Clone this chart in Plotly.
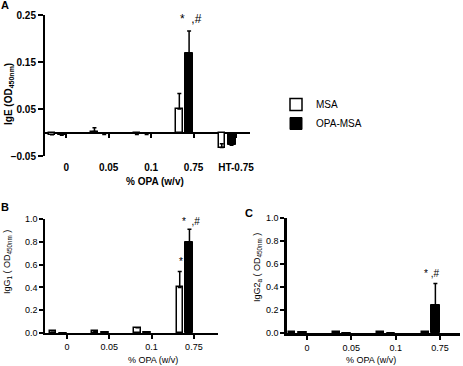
import plotly.graph_objects as go

# ---------------- data ----------------
cats_a = ["0", "0.05", "0.1", "0.75", "HT-0.75"]
msa_a = [-0.005, 0.002, -0.004, 0.05, -0.032]
msa_a_err = [0.0, 0.008, 0.0, 0.033, 0.008]
opa_a = [-0.006, -0.004, -0.004, 0.169, -0.027]
opa_a_err = [0.0, 0.0, 0.0, 0.047, 0.004]

cats_bc = ["0", "0.05", "0.1", "0.75"]
msa_b = [0.02, 0.015, 0.045, 0.40]
msa_b_err = [0.0, 0.0, 0.0, 0.14]
opa_b = [0.0, 0.006, 0.01, 0.795]
opa_b_err = [0.0, 0.0, 0.0, 0.115]

msa_c = [0.01, 0.01, 0.01, 0.01]
msa_c_err = [0.0, 0.0, 0.0, 0.0]
opa_c = [0.006, 0.0, 0.0, 0.245]
opa_c_err = [0.0, 0.0, 0.0, 0.185]

W, H = 463, 366
FONT = "Liberation Sans, Arial, sans-serif"

def px_x(p):
    return p / W

def px_y(p):
    return 1 - p / H

fig = go.Figure()

def add_pair(cats, msa, msa_err, opa, opa_err, xa, ya, show):
    fig.add_trace(go.Bar(
        x=cats, y=msa, name="MSA", xaxis=xa, yaxis=ya, showlegend=show,
        marker=dict(color="white", line=dict(color="black", width=1.5)),
        width=0.15, offset=-0.41,
        error_y=dict(type="data", array=msa_err, arrayminus=[0]*len(msa_err),
                     symmetric=False, color="black", thickness=1.5, width=2),
    ))
    fig.add_trace(go.Bar(
        x=cats, y=opa, name="OPA-MSA", xaxis=xa, yaxis=ya, showlegend=show,
        marker=dict(color="black", line=dict(color="black", width=1)),
        width=0.19, offset=-0.2,
        error_y=dict(type="data", array=opa_err, arrayminus=[0]*len(opa_err),
                     symmetric=False, color="black", thickness=1.5, width=2),
    ))

add_pair(cats_a, msa_a, msa_a_err, opa_a, opa_a_err, "x", "y", True)
add_pair(cats_bc, msa_b, msa_b_err, opa_b, opa_b_err, "x2", "y2", False)
add_pair(cats_bc, msa_c, msa_c_err, opa_c, opa_c_err, "x3", "y3", False)

tickfont_bold = dict(family=FONT, size=10, color="black", weight="bold")
tickfont_reg = dict(family=FONT, size=9, color="black")

fig.update_layout(
    template="none",
    width=W, height=H, margin=dict(l=0, r=0, t=0, b=0, pad=0),
    paper_bgcolor="white", plot_bgcolor="white",
    barmode="overlay", bargap=0,
    font=dict(family=FONT, color="black"),
    showlegend=True,
    legend=dict(x=px_x(276), y=px_y(90), xanchor="left", yanchor="top",
                font=dict(family=FONT, size=10, color="black"),
                bgcolor="rgba(0,0,0,0)", tracegroupgap=0, itemwidth=30),
    # Panel A
    xaxis=dict(domain=[px_x(45), px_x(250)], range=[-0.5, 4.33],
               anchor="free", position=px_y(132.5), type="category",
               showline=False, ticks="outside", ticklen=4, tickwidth=1.5,
               tickcolor="black", tickfont=tickfont_bold, automargin=False,
               ticklabelstandoff=21, showgrid=False, zeroline=False),
    yaxis=dict(domain=[px_y(156), px_y(15)], range=[-0.05, 0.25],
               anchor="x", showline=True, linewidth=2, linecolor="black",
               ticks="outside", ticklen=5, tickwidth=2, tickcolor="black",
               tick0=-0.05, dtick=0.1, tickformat=".2f", automargin=False,
               tickfont=tickfont_bold, showgrid=False,
               zeroline=True, zerolinecolor="black", zerolinewidth=1.5),
    # Panel B
    xaxis2=dict(domain=[px_x(45), px_x(218)], range=[-0.52, 3.57],
                anchor="y2", type="category", showline=True, linewidth=2,
                linecolor="black", ticks="outside", ticklen=4, tickwidth=1.5,
                automargin=False,
                tickcolor="black", tickfont=tickfont_reg, showgrid=False),
    yaxis2=dict(domain=[px_y(333), px_y(219)], range=[0, 1.0],
                anchor="x2", showline=True, linewidth=1.5, linecolor="black",
                ticks="outside", ticklen=4, tickwidth=1.5, tickcolor="black",
                dtick=0.2, tickformat=".1f", tickfont=tickfont_reg,
                automargin=False, showgrid=False, zeroline=False),
    # Panel C
    xaxis3=dict(domain=[px_x(287), px_x(460)], range=[-0.45, 3.45],
                anchor="y3", type="category", showline=True, linewidth=2.5,
                linecolor="black", ticks="outside", ticklen=4, tickwidth=1.5,
                automargin=False,
                tickcolor="black", tickfont=tickfont_reg, showgrid=False),
    yaxis3=dict(domain=[px_y(333), px_y(218)], range=[0, 1.0],
                anchor="x3", showline=True, linewidth=2.5, linecolor="black",
                ticks="outside", ticklen=4, tickwidth=2, tickcolor="black",
                dtick=0.2, tickformat=".1f", tickfont=tickfont_reg,
                automargin=False, showgrid=False, zeroline=False),
)

ann = []
def paper_text(text, x, y, size=10, bold=False, angle=0):
    ann.append(dict(text=text, x=px_x(x), y=px_y(y), xref="paper", yref="paper",
                    showarrow=False, textangle=angle, xanchor="center", yanchor="middle",
                    font=dict(family=FONT, size=size, color="black",
                              weight="bold" if bold else "normal")))

# panel letters
paper_text("A", 5, 5, size=11, bold=True)
paper_text("B", 5, 207, size=11, bold=True)
paper_text("C", 249, 213, size=11, bold=True)
# axis titles
paper_text("IgE (OD<sub>450nm</sub>)", 9, 94, size=10, bold=True, angle=-90)
paper_text("% OPA (w/v)", 155, 181, size=10, bold=True)
paper_text("IgG<sub>1</sub> ( OD<sub>450nm</sub> )", 7, 262, size=9, angle=-90)
paper_text("% OPA (w/v)", 153, 360, size=9)
paper_text("IgG2<sub>a</sub> ( OD<sub>450nm</sub> )", 257, 268, size=9, angle=-90)
paper_text("% OPA (w/v)", 371, 360, size=9)

# significance marks
def data_text(text, x, y, xa, ya, xshift=0, yshift=0, size=11, bold=False):
    ann.append(dict(text=text, x=x, y=y, xref=xa, yref=ya, showarrow=False,
                    xshift=xshift, yshift=yshift, yanchor="bottom",
                    font=dict(family=FONT, size=size, color="black",
                              weight="bold" if bold else "normal")))

ia = cats_a.index("0.75")
ib = cats_bc.index("0.75")
data_text("*  ,#", ia, opa_a[ia] + opa_a_err[ia], "x", "y", xshift=-3, yshift=3, size=12)
data_text("*", ib, msa_b[ib] + msa_b_err[ib] + 0.02, "x2", "y2", xshift=-13, size=10)
data_text("*  ,#", ib, opa_b[ib] + opa_b_err[ib], "x2", "y2", xshift=-3, size=10)
data_text("* ,#", ib, opa_c[ib] + opa_c_err[ib] + 0.02, "x3", "y3", xshift=-9, size=10)

fig.update_layout(annotations=ann)
fig.write_html("out.html",
               config={"displayModeBar": False},
               post_script="document.body.style.margin='0';document.body.style.overflow='hidden';")
